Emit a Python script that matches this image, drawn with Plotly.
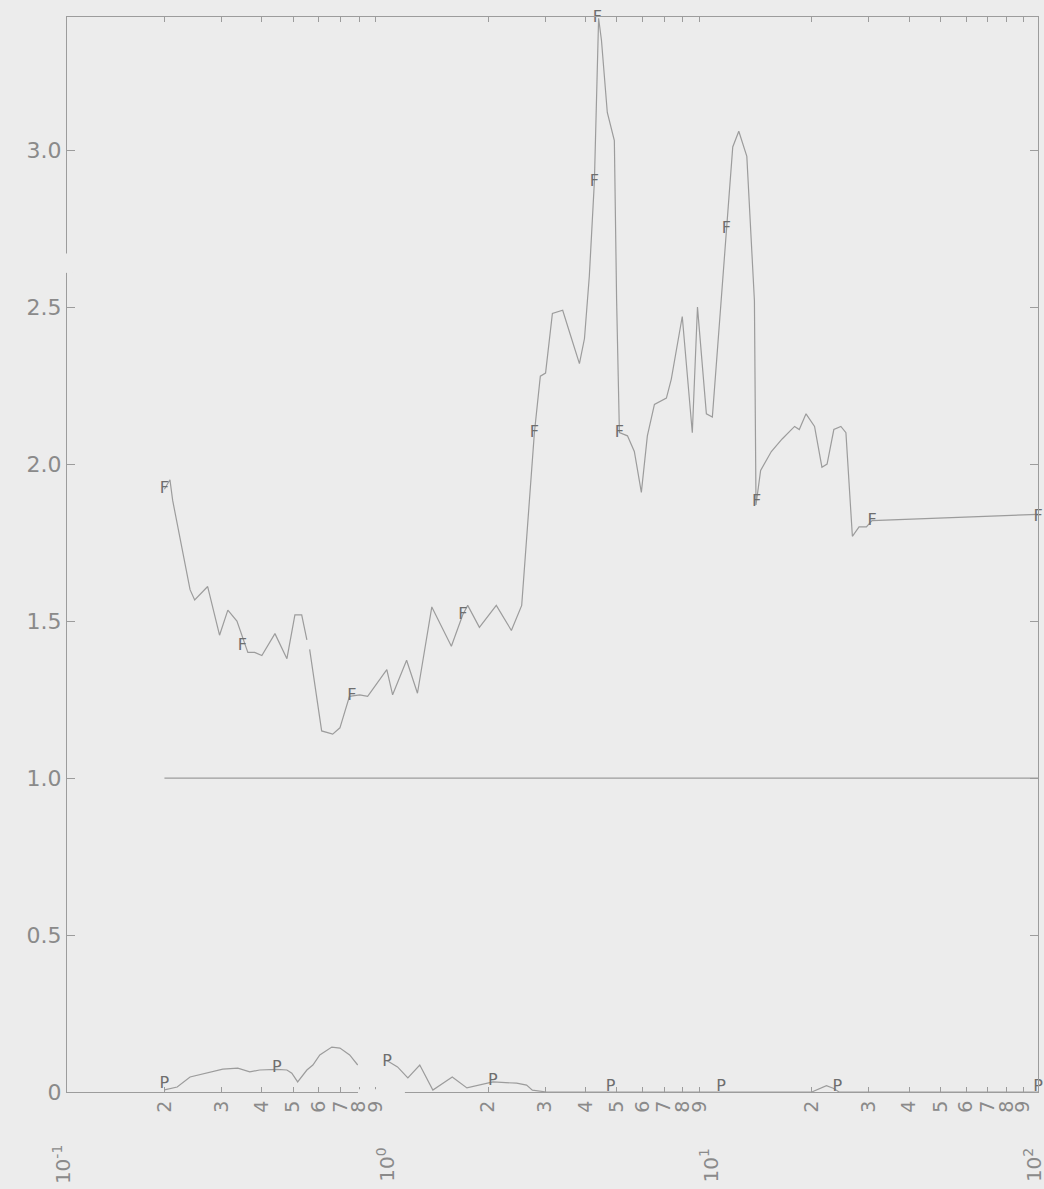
import math
import plotly.graph_objects as go

# ---- data ----
f_x = [0.2, 0.208, 0.212, 0.240, 0.248, 0.272, 0.296, 0.314, 0.335, 0.362, 0.380, 0.400,
       0.439, 0.478, 0.506, 0.531, 0.551, None, 0.562, 0.612, 0.662, 0.697, 0.746, 0.802,
       0.849, 0.973, 1.014, 1.12, 1.21, 1.34, 1.54, 1.67, 1.73, 1.88, 2.12, 2.36, 2.54,
       2.78, 2.90, 3.01, 3.16, 3.40, 3.57, 3.83, 3.97, 4.11, 4.26, 4.39, 4.48, 4.67, 4.91,
       4.99, 5.09, 5.39, 5.66, 5.95, 6.21, 6.53, 7.11, 7.36, 7.96, 8.55, 8.87, 9.45, 9.86,
       10.9, 11.4, 11.9, 12.6, 13.3, 13.45, 13.9, 15.0, 16.2, 17.7, 18.3, 19.2, 20.4, 21.5,
       22.3, 23.4, 24.6, 25.5, 26.7, 28.0, 29.5, 30.7, 100.0]
f_y = [1.92, 1.95, 1.885, 1.60, 1.567, 1.61, 1.455, 1.535, 1.50, 1.40, 1.40, 1.39,
       1.46, 1.38, 1.52, 1.52, 1.44, None, 1.41, 1.15, 1.14, 1.16, 1.26, 1.265,
       1.26, 1.345, 1.265, 1.375, 1.27, 1.545, 1.42, 1.52, 1.55, 1.48, 1.55, 1.47, 1.55,
       2.10, 2.28, 2.29, 2.48, 2.49, 2.42, 2.32, 2.40, 2.60, 2.90, 3.42, 3.35, 3.12, 3.03,
       2.52, 2.10, 2.09, 2.04, 1.91, 2.09, 2.19, 2.21, 2.27, 2.47, 2.10, 2.50, 2.16, 2.15,
       2.75, 3.01, 3.06, 2.98, 2.52, 1.87, 1.98, 2.04, 2.08, 2.12, 2.11, 2.16, 2.12, 1.99,
       2.00, 2.11, 2.12, 2.10, 1.77, 1.80, 1.80, 1.82, 1.84]

fm_x = [0.2, 0.348, 0.759, 1.67, 2.78, 4.26, 4.35, 5.09, 10.9, 13.5, 30.7, 100.0]
fm_y = [1.92, 1.42, 1.26, 1.52, 2.10, 2.90, 3.42, 2.10, 2.75, 1.88, 1.82, 1.83]

p_x = [0.2, 0.219, 0.240, 0.267, 0.303, 0.337, 0.367, 0.394, 0.445, 0.478, 0.495, 0.516,
       0.551, 0.575, 0.604, 0.658, 0.697, 0.747, 0.791, None, 0.973, 1.05, 1.13, 1.23,
       1.35, 1.45, 1.55, 1.72, 1.88, 2.07, 2.45, 2.63, 2.74, 3.03, 20.0, 21.2, 22.2, 23.3,
       24.3, 100.0]
p_y = [0.007, 0.016, 0.048, 0.06, 0.073, 0.076, 0.064, 0.07, 0.072, 0.07, 0.06, 0.032,
       0.07, 0.086, 0.118, 0.143, 0.14, 0.118, 0.086, None, 0.10, 0.08, 0.045, 0.086,
       0.006, 0.028, 0.048, 0.013, 0.022, 0.032, 0.028, 0.022, 0.006, 0.0, 0.0, 0.012, 0.02, 0.012,
       0.0, 0.0]

pm_x = [0.2, 0.445, 0.975, 2.07, 4.78, 10.5, 24.0, 100.0]
pm_y = [0.025, 0.075, 0.095, 0.035, 0.015, 0.015, 0.015, 0.015]

ref_x = [0.2, 100.0]
ref_y = [1.0, 1.0]

y_tick_vals = [0, 0.5, 1.0, 1.5, 2.0, 2.5, 3.0]
y_tick_text = ["0", "0.5", "1.0", "1.5", "2.0", "2.5", "3.0"]

decade_vals = [0.1, 1, 10, 100]
decade_text = ["10<sup>-1</sup>", "10<sup>0</sup>", "10<sup>1</sup>", "10<sup>2</sup>"]
minor_digits = [2, 3, 4, 5, 6, 7, 8, 9]

x_tick_vals = []
x_tick_text = []
for d in decade_vals[:-1]:
    for m in minor_digits:
        x_tick_vals.append(m * d)
        x_tick_text.append(str(m))

# ---- styling ----
BG = "#ececec"
LINE = "#9c9c9c"
TXT = "#8a8a8a"
FONT = "DejaVu Sans"

fig = go.Figure()
fig.add_trace(go.Scatter(x=ref_x, y=ref_y, mode="lines",
                         line=dict(color=LINE, width=1.2), hoverinfo="skip"))
fig.add_trace(go.Scatter(x=f_x, y=f_y, mode="lines",
                         line=dict(color=LINE, width=1.2), connectgaps=False))
fig.add_trace(go.Scatter(x=p_x, y=p_y, mode="lines",
                         line=dict(color=LINE, width=1.2), connectgaps=False))
fig.add_trace(go.Scatter(x=fm_x, y=fm_y, mode="text", text=["F"] * len(fm_x),
                         textposition="middle center", cliponaxis=False,
                         textfont=dict(family=FONT, size=16, color="#6e6e6e")))
fig.add_trace(go.Scatter(x=pm_x, y=pm_y, mode="text", text=["P"] * len(pm_x),
                         textposition="middle center", cliponaxis=False,
                         textfont=dict(family=FONT, size=16, color="#6e6e6e")))

annotations = []
for v, t in zip(decade_vals, decade_text):
    annotations.append(dict(x=math.log10(v), y=-0.068, xref="x", yref="paper",
                            text=t, showarrow=False, textangle=-90,
                            xanchor="center", yanchor="middle", xshift=-5,
                            font=dict(family=FONT, size=20, color=TXT)))

# scan gaps in the frame
shapes = [
    dict(type="rect", xref="paper", yref="paper", x0=-0.006, x1=0.006,
         y0=0.762, y1=0.780, fillcolor=BG, line=dict(width=0), layer="above"),
    dict(type="rect", xref="paper", yref="paper", x0=0.2997, x1=0.348,
         y0=-0.0025, y1=0.0025, fillcolor=BG, line=dict(width=0), layer="above"),
]

fig.update_layout(
    width=1044, height=1189,
    margin=dict(l=67, r=6, t=17, b=97),
    paper_bgcolor=BG, plot_bgcolor=BG,
    showlegend=False,
    font=dict(family=FONT, color=TXT),
    annotations=annotations,
    shapes=shapes,
    xaxis=dict(type="log", range=[-1, 2], tickmode="array",
               tickvals=x_tick_vals, ticktext=x_tick_text, tickangle=-90,
               ticks="inside", ticklen=5, tickcolor=LINE, tickwidth=1,
               showline=True, linecolor=LINE, linewidth=1.2, mirror="ticks",
               showgrid=False, zeroline=False,
               tickfont=dict(family=FONT, size=19, color=TXT)),
    yaxis=dict(range=[0, 3.424], tickmode="array",
               tickvals=y_tick_vals, ticktext=y_tick_text,
               ticks="inside", ticklen=8, tickcolor=LINE, tickwidth=1,
               showline=True, linecolor=LINE, linewidth=1.2, mirror="ticks",
               showgrid=False, zeroline=False,
               tickfont=dict(family=FONT, size=22, color=TXT)),
)

fig.write_html(
    "out.html",
    config={"displayModeBar": False},
    post_script=("document.body.style.margin='0';"
                 "document.body.style.background='" + BG + "';"
                 "document.body.style.overflow='hidden';"),
)
